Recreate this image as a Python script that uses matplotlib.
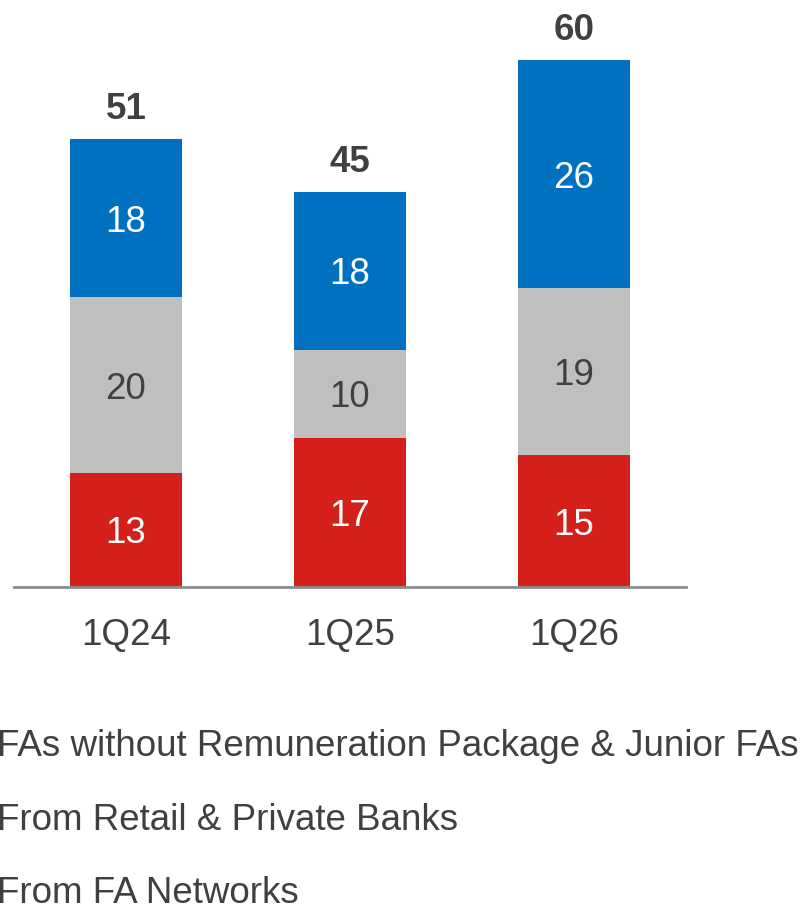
import matplotlib.pyplot as plt

plt.rcParams['font.family'] = ['Liberation Sans', 'DejaVu Sans']

quarters = ['1Q24', '1Q25', '1Q26']
fa_networks = [13, 17, 15]
retail_private = [20, 10, 19]
without_package = [18, 18, 26]
totals = [51, 45, 60]

series_names = ['FAs without Remuneration Package & Junior FAs',
                'From Retail & Private Banks',
                'From FA Networks']

c_red = '#D41F1A'
c_gray = '#BFBFBF'
c_blue = '#0070C0'
txt = '#404040'
fs = 26.5

W, H = 812, 905
fig = plt.figure(figsize=(W / 100, H / 100), dpi=100)
ax = fig.add_axes([14 / W, (H - 587) / H, 672 / W, 587 / H])

x = list(range(len(quarters)))
bottoms = [0] * len(quarters)
for vals, col, tcol in [(fa_networks, c_red, 'white'),
                        (retail_private, c_gray, txt),
                        (without_package, c_blue, 'white')]:
    ax.bar(x, vals, width=0.5, bottom=bottoms, color=col, edgecolor='none', zorder=2)
    for i, v in enumerate(vals):
        ax.text(x[i], bottoms[i] + v / 2, str(v), ha='center', va='center_baseline',
                fontsize=fs, color=tcol)
    bottoms = [b + v for b, v in zip(bottoms, vals)]

for i, t in enumerate(totals):
    ax.text(x[i], t + 3.8, str(t), ha='center', va='center_baseline', fontsize=fs,
            fontweight='bold', color=txt)

ax.set_xlim(-0.5, 2.5)
ax.set_ylim(0, 587 / 8.78)
for s in ['top', 'right', 'left']:
    ax.spines[s].set_visible(False)
ax.spines['bottom'].set_color('#8C8C8C')
ax.spines['bottom'].set_linewidth(2)
ax.spines['bottom'].set_zorder(3)
ax.set_yticks([])
ax.set_xticks(x)
ax.set_xticklabels(quarters, fontsize=fs, color=txt)
ax.tick_params(axis='x', length=0, pad=22)

for j, name in enumerate(series_names):
    y = 743 + 73 * j
    fig.text(-3 / W, 1 - y / H, name, ha='left', va='center_baseline', fontsize=fs, color=txt)

fig.savefig('out.png', dpi=100)
